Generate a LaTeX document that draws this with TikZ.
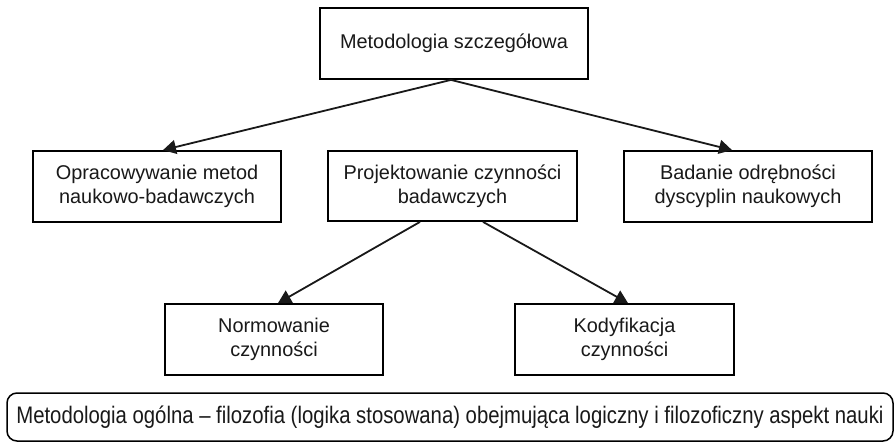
\documentclass[tikz,border=0pt]{standalone}
\usepackage{fontspec}
\setmainfont{Liberation Sans}
\usepackage{graphicx}
\usetikzlibrary{arrows.meta}
\begin{document}
\begin{tikzpicture}[x=1pt,y=-1pt,
  box/.style={draw=black, line width=1.8pt, align=center, inner sep=0pt,
    font=\fontsize{19.9}{24}\selectfont, text=black!90},
  conn/.style={line width=1.8pt, draw=black!90, -{Triangle[length=13pt,width=14pt]}}]
\useasboundingbox[fill=white] (0,0) rectangle (896,444);
\node[box, minimum width=268pt, minimum height=71pt] (top) at (454,43.5) {Metodologia szczegółowa};
\node[box, minimum width=248pt, minimum height=71pt] (left) at (157,186.5) {Opracowywanie metod\\naukowo-badawczych};
\node[box, minimum width=249pt, minimum height=70pt] (mid) at (452.5,186) {Projektowanie czynności\\badawczych};
\node[box, minimum width=248pt, minimum height=71pt] (right) at (748,186.5) {Badanie odrębności\\dyscyplin naukowych};
\node[box, minimum width=218pt, minimum height=71pt] (norm) at (274,339.5) {Normowanie\\czynności};
\node[box, minimum width=219pt, minimum height=71pt] (kod) at (624.5,339.5) {Kodyfikacja\\czynności};
\node[box, rounded corners=10pt, line width=1.5pt, minimum width=886pt, minimum height=48pt] (gen) at (450,417)
  {\scalebox{0.85}[1]{\fontsize{23.9}{26}\selectfont Metodologia ogólna – filozofia (logika stosowana) obejmująca logiczny i filozoficzny aspekt nauki}};
\draw[conn] ([xshift=-3pt]top.south) -- ([xshift=6pt]left.north);
\draw[conn] ([xshift=-3pt]top.south) -- ([xshift=-16pt]right.north);
\draw[conn] ([xshift=-32.5pt]mid.south) -- ([xshift=4pt]norm.north);
\draw[conn] ([xshift=30.5pt]mid.south) -- ([xshift=3.5pt]kod.north);
\end{tikzpicture}
\end{document}
